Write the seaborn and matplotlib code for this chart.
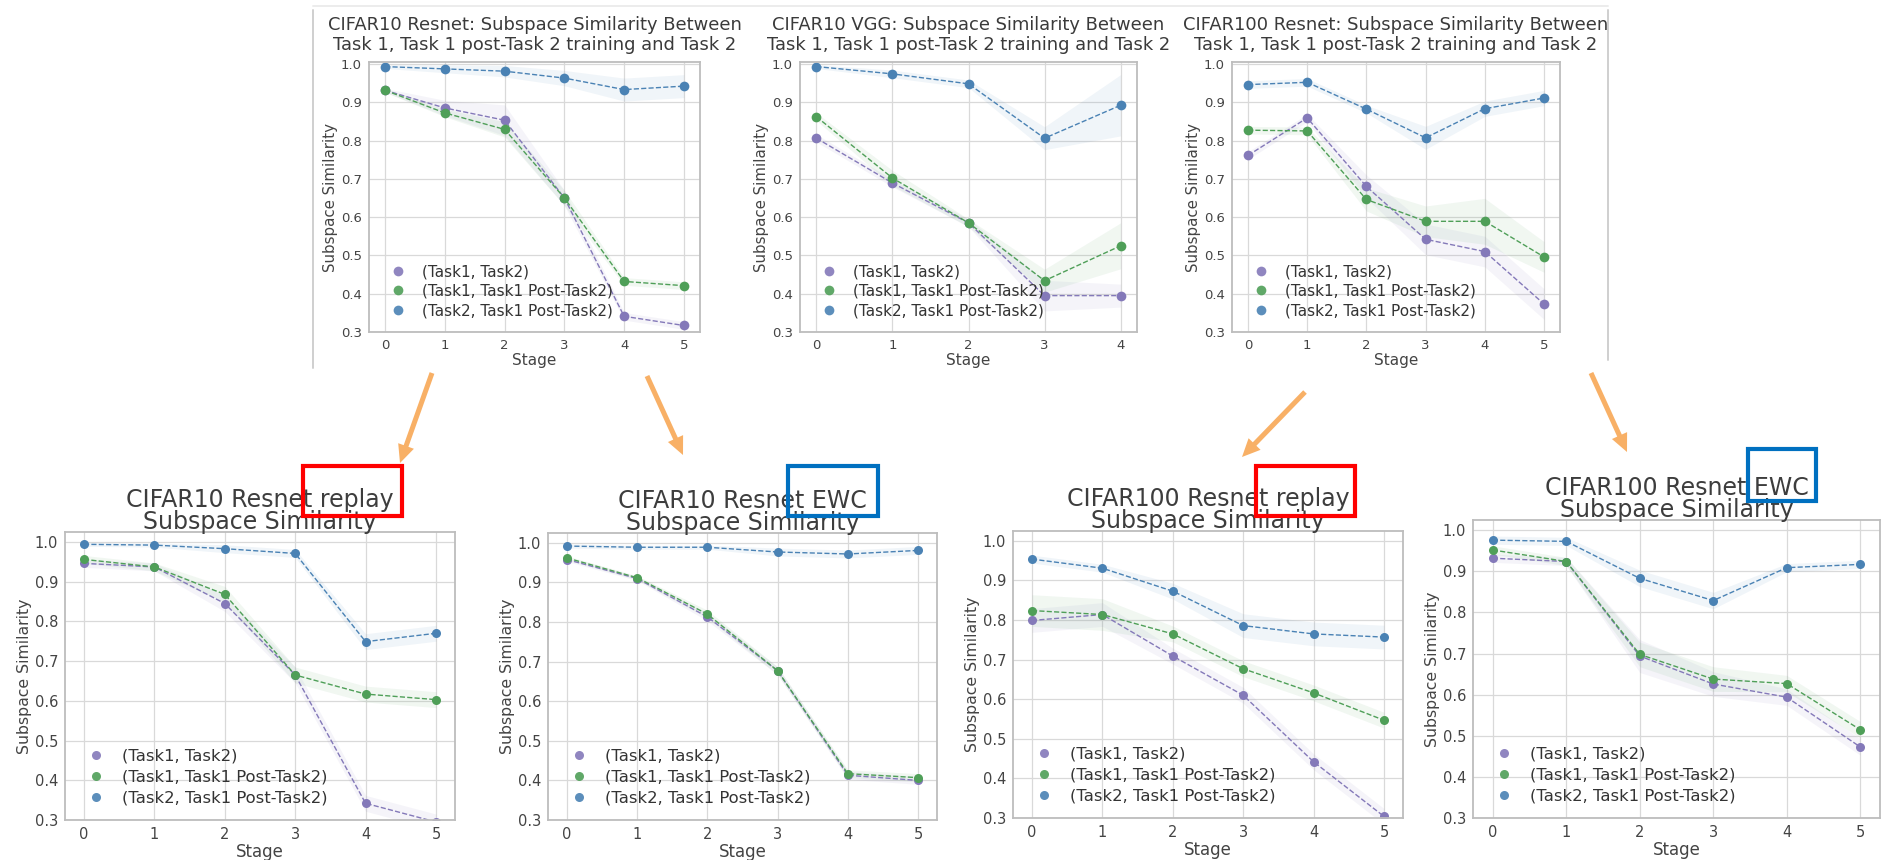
import numpy as np
import pandas as pd
import matplotlib
matplotlib.use("Agg")
import matplotlib.pyplot as plt
from matplotlib.lines import Line2D
from matplotlib.patches import Rectangle, FancyArrowPatch
import seaborn as sns

# ---------------------------------------------------------------- data
pair_labels = ["(Task1, Task2)", "(Task1, Task1 Post-Task2)", "(Task2, Task1 Post-Task2)"]
pair_colors = ["#8479b9", "#4f9f58", "#4a82b4"]

stages6 = [0, 1, 2, 3, 4, 5]
stages5 = [0, 1, 2, 3, 4]

# CIFAR10 Resnet (baseline)
c10_resnet_t1_t2 = [0.931, 0.885, 0.853, 0.650, 0.341, 0.317]
c10_resnet_t1_t1p = [0.931, 0.872, 0.829, 0.650, 0.432, 0.421]
c10_resnet_t2_t1p = [0.993, 0.987, 0.981, 0.963, 0.933, 0.942]
c10_resnet_band = [[0.005, 0.02, 0.04, 0.02, 0.01, 0.01],
                   [0.005, 0.01, 0.02, 0.02, 0.01, 0.01],
                   [0.005, 0.01, 0.015, 0.02, 0.03, 0.03]]

# CIFAR10 VGG (baseline)
c10_vgg_t1_t2 = [0.806, 0.689, 0.585, 0.395, 0.395]
c10_vgg_t1_t1p = [0.862, 0.702, 0.585, 0.434, 0.525]
c10_vgg_t2_t1p = [0.993, 0.974, 0.948, 0.806, 0.892]
c10_vgg_band = [[0.01, 0.01, 0.01, 0.04, 0.03],
                [0.01, 0.02, 0.01, 0.03, 0.06],
                [0.005, 0.01, 0.01, 0.03, 0.08]]

# CIFAR100 Resnet (baseline)
c100_resnet_t1_t2 = [0.761, 0.859, 0.680, 0.542, 0.510, 0.373]
c100_resnet_t1_t1p = [0.827, 0.825, 0.646, 0.589, 0.589, 0.496]
c100_resnet_t2_t1p = [0.946, 0.952, 0.882, 0.807, 0.883, 0.911]
c100_resnet_band = [[0.01, 0.01, 0.03, 0.04, 0.04, 0.04],
                    [0.01, 0.01, 0.03, 0.04, 0.06, 0.04],
                    [0.01, 0.01, 0.01, 0.03, 0.02, 0.02]]

# CIFAR10 Resnet replay
c10_replay_t1_t2 = [0.946, 0.937, 0.845, 0.665, 0.342, 0.295]
c10_replay_t1_t1p = [0.956, 0.937, 0.868, 0.665, 0.617, 0.603]
c10_replay_t2_t1p = [0.994, 0.992, 0.983, 0.971, 0.749, 0.770]
c10_replay_band = [[0.01, 0.01, 0.02, 0.02, 0.02, 0.02],
                   [0.01, 0.01, 0.02, 0.02, 0.02, 0.02],
                   [0.005, 0.005, 0.01, 0.01, 0.02, 0.02]]

# CIFAR10 Resnet EWC
c10_ewc_t1_t2 = [0.958, 0.910, 0.813, 0.677, 0.413, 0.400]
c10_ewc_t1_t1p = [0.962, 0.912, 0.820, 0.677, 0.417, 0.407]
c10_ewc_t2_t1p = [0.992, 0.989, 0.989, 0.977, 0.972, 0.981]
c10_ewc_band = [[0.005, 0.005, 0.01, 0.01, 0.01, 0.01],
                [0.005, 0.005, 0.01, 0.01, 0.01, 0.01],
                [0.005, 0.005, 0.005, 0.01, 0.01, 0.01]]

# CIFAR100 Resnet replay
c100_replay_t1_t2 = [0.799, 0.814, 0.709, 0.610, 0.442, 0.304]
c100_replay_t1_t1p = [0.824, 0.814, 0.765, 0.677, 0.616, 0.547]
c100_replay_t2_t1p = [0.954, 0.931, 0.873, 0.786, 0.765, 0.757]
c100_replay_band = [[0.03, 0.03, 0.02, 0.02, 0.02, 0.02],
                    [0.04, 0.04, 0.02, 0.02, 0.02, 0.02],
                    [0.01, 0.01, 0.02, 0.03, 0.03, 0.03]]

# CIFAR100 Resnet EWC
c100_ewc_t1_t2 = [0.932, 0.924, 0.694, 0.626, 0.594, 0.473]
c100_ewc_t1_t1p = [0.952, 0.924, 0.698, 0.638, 0.627, 0.515]
c100_ewc_t2_t1p = [0.976, 0.973, 0.883, 0.829, 0.909, 0.917]
c100_ewc_band = [[0.01, 0.01, 0.04, 0.03, 0.02, 0.02],
                 [0.01, 0.01, 0.03, 0.03, 0.02, 0.02],
                 [0.01, 0.01, 0.02, 0.02, 0.01, 0.01]]

top_title_tail = ": Subspace Similarity Between\nTask 1, Task 1 post-Task 2 training and Task 2"

# ---------------------------------------------------------------- figure
W, H = 1892, 860
DPI = 100
sns.set_theme(style="whitegrid")
plt.rcParams["font.family"] = ["DejaVu Sans"]
fig = plt.figure(figsize=(W / DPI, H / DPI), dpi=DPI)
fig.patch.set_facecolor("white")


def px_axes(x0, y0, x1, y1):
    return fig.add_axes([x0 / W, 1 - y1 / H, (x1 - x0) / W, (y1 - y0) / H])


def draw_panel(ax, stages, series, bands, title, top_row):
    frames = []
    for lab, vals in zip(pair_labels, series):
        frames.append(pd.DataFrame({"Stage": stages, "Similarity": vals, "Pair": lab}))
    df = pd.concat(frames, ignore_index=True)

    ms = 7 if top_row else 6.5
    sns.lineplot(data=df, x="Stage", y="Similarity", hue="Pair",
                 hue_order=pair_labels, palette=pair_colors,
                 marker="o", markersize=ms, markeredgewidth=0,
                 linestyle="--", linewidth=1.0, errorbar=None,
                 legend=False, ax=ax)
    for vals, half, col in zip(series, bands, pair_colors):
        v = np.asarray(vals)
        h = np.asarray(half)
        ax.fill_between(stages, v - h, v + h, color=col, alpha=0.08, linewidth=0)

    ax.set_xlim(-0.27 * (len(stages) - 1) / 5, (len(stages) - 1) * 1.054)
    ax.set_ylim(0.3, 1.005 if top_row else 1.025)
    ax.set_xticks(stages)
    ax.set_yticks(np.arange(0.3, 1.01, 0.1))
    ax.set_yticklabels([f"{t:.1f}" for t in np.arange(0.3, 1.01, 0.1)])

    tick_fs = 9.5 if top_row else 10.5
    ax.tick_params(axis="both", labelsize=tick_fs, colors="#444444",
                   length=3, width=0.8, color="#999999", pad=2)
    ax.set_xlabel("Stage", fontsize=11 if top_row else 12, color="#444444", labelpad=1)
    ax.set_ylabel("Subspace Similarity", fontsize=10.8 if top_row else 11.3,
                  color="#444444", labelpad=2)
    ax.grid(True, color="#d9d9d9", linewidth=0.9)
    for sp in ax.spines.values():
        sp.set_color("#bdbdbd")
        sp.set_linewidth(1.3)

    if top_row:
        ax.set_title(title, fontsize=12.9, color="#3a3a3a", pad=9, linespacing=1.08)
    else:
        ax.set_title(title, fontsize=17, color="#3d3d3d", pad=2, linespacing=0.92)

    handles = [Line2D([], [], linestyle="none", marker="o", markersize=ms,
                      markerfacecolor=c, markeredgewidth=0, alpha=0.9)
               for c in pair_colors]
    ax.legend(handles, pair_labels, loc="lower left", frameon=False,
              fontsize=11 if top_row else 11.8, handletextpad=0.6,
              labelspacing=0.3 if top_row else 0.35, borderaxespad=0.5,
              labelcolor="#333333")


panels = [
    ((369, 62, 700, 332), stages6,
     [c10_resnet_t1_t2, c10_resnet_t1_t1p, c10_resnet_t2_t1p], c10_resnet_band,
     "CIFAR10 Resnet" + top_title_tail, True),
    ((800, 62, 1137, 332), stages5,
     [c10_vgg_t1_t2, c10_vgg_t1_t1p, c10_vgg_t2_t1p], c10_vgg_band,
     "CIFAR10 VGG" + top_title_tail, True),
    ((1232, 62, 1560, 332), stages6,
     [c100_resnet_t1_t2, c100_resnet_t1_t1p, c100_resnet_t2_t1p], c100_resnet_band,
     "CIFAR100 Resnet" + top_title_tail, True),
    ((65, 532, 455, 820), stages6,
     [c10_replay_t1_t2, c10_replay_t1_t1p, c10_replay_t2_t1p], c10_replay_band,
     "CIFAR10 Resnet replay\nSubspace Similarity", False),
    ((548, 533, 937, 820), stages6,
     [c10_ewc_t1_t2, c10_ewc_t1_t1p, c10_ewc_t2_t1p], c10_ewc_band,
     "CIFAR10 Resnet EWC\nSubspace Similarity", False),
    ((1013, 531, 1403, 818), stages6,
     [c100_replay_t1_t2, c100_replay_t1_t1p, c100_replay_t2_t1p], c100_replay_band,
     "CIFAR100 Resnet replay\nSubspace Similarity", False),
    ((1473, 520, 1880, 818), stages6,
     [c100_ewc_t1_t2, c100_ewc_t1_t1p, c100_ewc_t2_t1p], c100_ewc_band,
     "CIFAR100 Resnet EWC\nSubspace Similarity", False),
]

for box, st, ser, bnd, ttl, top in panels:
    ax = px_axes(*box)
    draw_panel(ax, st, ser, bnd, ttl, top)

# ---------------------------------------------------------------- annotations
to_in = fig.dpi_scale_trans


def pt(x, y):
    return (x / DPI, (H - y) / DPI)


# thin frame around the baseline row
for (xa, ya), (xb, yb), col in [((313, 10), (313, 368), "#cfcfcf"),
                                ((1608, 10), (1608, 360), "#cfcfcf"),
                                ((313, 6), (1608, 6), "#ececec")]:
    fig.add_artist(Line2D([pt(xa, ya)[0], pt(xb, yb)[0]], [pt(xa, ya)[1], pt(xb, yb)[1]],
                          transform=to_in, color=col, linewidth=1.4))

# method highlight boxes
method_boxes = [((303, 466, 402, 516), "#ff0000"),
                ((788, 466, 878, 516), "#0070c0"),
                ((1256, 466, 1355, 516), "#ff0000"),
                ((1748, 449, 1816, 501), "#0070c0")]
for (x0, y0, x1, y1), col in method_boxes:
    fig.add_artist(Rectangle(pt(x0, y1), (x1 - x0) / DPI, (y1 - y0) / DPI,
                             transform=to_in, fill=False, edgecolor=col,
                             linewidth=3.0))

# arrows linking baseline panels to their regularised counterparts
arrows = [((432, 373), (400, 463)),
          ((647, 376), (683, 455)),
          ((1305, 392), (1242, 457)),
          ((1591, 373), (1627, 452))]
for a, b in arrows:
    fig.add_artist(FancyArrowPatch(pt(*a), pt(*b), transform=to_in,
                                   arrowstyle="simple,head_length=1.3,head_width=1.2,tail_width=0.36",
                                   mutation_scale=10, color="#f8b066",
                                   shrinkA=0, shrinkB=0, linewidth=0))

fig.savefig("out.png", dpi=DPI, facecolor="white")
